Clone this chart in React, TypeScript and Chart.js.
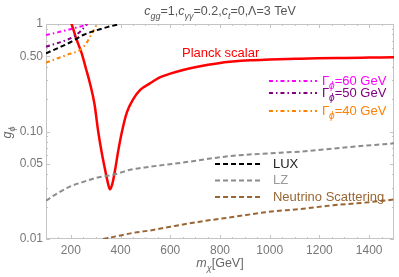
import React, { useEffect, useRef } from "react";
import { Chart, registerables } from "chart.js";

Chart.register(...registerables);

// ---- data ----
const planckX = [195, 203, 220, 244, 260, 277, 295, 310, 325, 337, 348, 357, 366, 378, 390, 404, 425, 451, 480, 518, 560, 600, 651, 720, 788, 850, 921, 1000, 1100, 1190, 1300, 1400, 1500];
const planckY = [1.1, 1.0, 0.75, 0.53, 0.39, 0.28, 0.18, 0.1, 0.062, 0.045, 0.034, 0.029, 0.032, 0.044, 0.065, 0.096, 0.15, 0.2, 0.245, 0.28, 0.32, 0.345, 0.373, 0.405, 0.43, 0.447, 0.46, 0.467, 0.474, 0.48, 0.484, 0.487, 0.49];

const luxX = [100, 150, 200, 250, 300, 350, 398];
const luxY = [0.533, 0.6, 0.68, 0.79, 0.87, 0.94, 1.0];

const lzX = [100, 150, 200, 250, 300, 378, 438, 518, 639, 840, 1041, 1122, 1300, 1500];
const lzY = [0.0227, 0.027, 0.031, 0.034, 0.037, 0.040, 0.044, 0.047, 0.051, 0.059, 0.0635, 0.065, 0.071, 0.0776];

const nuX = [330, 400, 450, 518, 600, 719, 850, 988, 1122, 1255, 1400, 1500];
const nuY = [0.010, 0.0108, 0.0114, 0.012, 0.013, 0.0145, 0.016, 0.0178, 0.019, 0.0206, 0.022, 0.0233];

const g60X = [100, 150, 210, 240, 270];
const g60Y = [0.79, 0.84, 0.91, 0.95, 1.0];

const g50X = [100, 183, 210, 240, 265];
const g50Y = [0.615, 0.71, 0.76, 0.86, 1.0];

const g40X = [100, 183, 240, 260, 280, 300, 305];
const g40Y = [0.437, 0.515, 0.58, 0.65, 0.78, 0.95, 1.0];

const xTicks = [200, 400, 600, 800, 1000, 1200, 1400];
const xMinor = [150, 250, 300, 350, 450, 500, 550, 650, 700, 750, 850, 900, 950, 1050, 1100, 1150, 1250, 1300, 1350, 1450];
const yMajor = [0.01, 0.05, 0.1, 0.5, 1];
const yMajorLabels = ["0.01", "0.05", "0.10", "0.50", "1"];
const yMinor = [0.02, 0.03, 0.04, 0.06, 0.07, 0.08, 0.09, 0.2, 0.3, 0.4, 0.6, 0.7, 0.8, 0.9];

const FONT = "'Liberation Sans', Arial, sans-serif";

const toXY = (xs: number[], ys: number[]) => xs.map((x, i) => ({ x, y: ys[i] }));

type Seg = [string, boolean];

function drawRich(ctx: CanvasRenderingContext2D, segs: Seg[], x: number, y: number, size: number, color: string, italicIdx: number[] = [], align: "left" | "center" = "left") {
  const subSize = Math.round(size * 0.75);
  const fontFor = (i: number, sub: boolean) =>
    `${italicIdx.includes(i) ? "italic " : ""}${sub ? subSize : size}px ${FONT}`;
  let total = 0;
  segs.forEach(([t, sub], i) => {
    ctx.font = fontFor(i, sub);
    total += ctx.measureText(t).width;
  });
  let cx = align === "center" ? x - total / 2 : x;
  ctx.fillStyle = color;
  ctx.textBaseline = "alphabetic";
  ctx.textAlign = "left";
  segs.forEach(([t, sub], i) => {
    ctx.font = fontFor(i, sub);
    ctx.fillText(t, cx, sub ? y + size * 0.3 : y);
    cx += ctx.measureText(t).width;
  });
}

const framePlugin = {
  id: "frameTicks",
  beforeDatasetsDraw(chart: any) {
    const { ctx, chartArea: ca, scales } = chart;
    ctx.save();
    ctx.strokeStyle = "#c4c4c4";
    ctx.lineWidth = 1;
    ctx.strokeRect(ca.left + 0.5, ca.top + 0.5, ca.right - ca.left - 1, ca.bottom - ca.top - 1);
    const xs = scales.x, ys = scales.y;
    const tick = (x1: number, y1: number, x2: number, y2: number) => {
      ctx.beginPath();
      ctx.moveTo(x1, y1);
      ctx.lineTo(x2, y2);
      ctx.stroke();
    };
    xTicks.forEach((v) => {
      const p = Math.round(xs.getPixelForValue(v)) + 0.5;
      tick(p, ca.bottom, p, ca.bottom - 4);
      tick(p, ca.top, p, ca.top + 4);
    });
    xMinor.forEach((v) => {
      const p = Math.round(xs.getPixelForValue(v)) + 0.5;
      tick(p, ca.bottom, p, ca.bottom - 2);
      tick(p, ca.top, p, ca.top + 2);
    });
    yMajor.forEach((v) => {
      const p = Math.round(ys.getPixelForValue(v)) + 0.5;
      tick(ca.left, p, ca.left + 4, p);
      tick(ca.right, p, ca.right - 4, p);
    });
    yMinor.forEach((v) => {
      const p = Math.round(ys.getPixelForValue(v)) + 0.5;
      tick(ca.left, p, ca.left + 2, p);
      tick(ca.right, p, ca.right - 2, p);
    });
    ctx.restore();
  },
  afterDatasetsDraw(chart: any) {
    const { ctx, chartArea: ca, scales } = chart;
    const xs = scales.x, ys = scales.y;
    const X = (v: number) => xs.getPixelForValue(v);
    const Y = (v: number) => ys.getPixelForValue(v);
    ctx.save();
    // title
    drawRich(ctx, [["c", false], ["gg", true], ["=1,", false], ["c", false], ["γγ", true], ["=0.2,", false], ["c", false], ["t", true], ["=0,Λ=3 TeV", false]],
      (ca.left + ca.right) / 2, 15, 12.5, "#555", [0, 1, 3, 4, 6, 7], "center");
    // x label
    drawRich(ctx, [["m", false], ["χ", true], ["[GeV]", false]], (ca.left + ca.right) / 2, 267, 12.5, "#666", [0, 1], "center");
    // y label
    ctx.save();
    ctx.translate(11, (ca.top + ca.bottom) / 2 + 1);
    ctx.rotate(-Math.PI / 2);
    drawRich(ctx, [["g", false], ["ϕ", true]], 0, 0, 12.5, "#666", [0, 1], "center");
    ctx.restore();

    // Planck label
    ctx.font = `13px ${FONT}`;
    ctx.fillStyle = "#ff0000";
    ctx.textBaseline = "middle";
    ctx.fillText("Planck scalar", X(647), Y(0.537));

    // Gamma legend
    const gl = [
      { c: "#ff00ff", t: "=60 GeV", y: 0.295 },
      { c: "#800080", t: "=50 GeV", y: 0.228 },
      { c: "#ff8000", t: "=40 GeV", y: 0.155 },
    ];
    gl.forEach((g) => {
      ctx.strokeStyle = g.c;
      ctx.lineWidth = 2;
      ctx.setLineDash([4, 3, 1.5, 3]);
      ctx.beginPath();
      ctx.moveTo(X(997), Y(g.y));
      ctx.lineTo(X(1190), Y(g.y));
      ctx.stroke();
      ctx.setLineDash([]);
      drawRich(ctx, [["Γ", false], ["ϕ", true], [g.t, false]], X(1210), Y(g.y) + 4, 13, g.c, [1]);
    });

    // detector legend
    const dl = [
      { c: "#000000", tc: "#222222", t: "LUX", y: 0.0499 },
      { c: "#8c8c8c", tc: "#9a9a9a", t: "LZ", y: 0.035 },
      { c: "#996633", tc: "#996633", t: "Neutrino Scattering", y: 0.0246 },
    ];
    dl.forEach((d) => {
      ctx.strokeStyle = d.c;
      ctx.lineWidth = 2;
      ctx.setLineDash([5, 3]);
      ctx.beginPath();
      ctx.moveTo(X(780), Y(d.y));
      ctx.lineTo(X(973), Y(d.y));
      ctx.stroke();
      ctx.setLineDash([]);
      ctx.font = `13px ${FONT}`;
      ctx.fillStyle = d.tc;
      ctx.textBaseline = "middle";
      ctx.textAlign = "left";
      ctx.fillText(d.t, X(1013), Y(d.y));
    });
    ctx.restore();
  },
};

export default function App() {
  const ref = useRef<HTMLCanvasElement | null>(null);
  useEffect(() => {
    if (!ref.current) return;
    const common = { pointRadius: 0, fill: false, clip: 0, cubicInterpolationMode: "monotone" as const };
    const chart = new Chart(ref.current, {
      type: "line",
      data: {
        datasets: [
          { ...common, label: "LUX", data: toXY(luxX, luxY), borderColor: "#000", borderWidth: 2, borderDash: [5, 3] },
          { ...common, label: "LZ", data: toXY(lzX, lzY), borderColor: "#8c8c8c", borderWidth: 2, borderDash: [5, 3] },
          { ...common, label: "Neutrino", data: toXY(nuX, nuY), borderColor: "#996633", borderWidth: 2, borderDash: [5, 3] },
          { ...common, label: "G60", data: toXY(g60X, g60Y), borderColor: "#ff00ff", borderWidth: 2, borderDash: [4, 3, 1.5, 3] },
          { ...common, label: "G50", data: toXY(g50X, g50Y), borderColor: "#800080", borderWidth: 2, borderDash: [4, 3, 1.5, 3] },
          { ...common, label: "G40", data: toXY(g40X, g40Y), borderColor: "#ff8000", borderWidth: 2, borderDash: [4, 3, 1.5, 3] },
          { ...common, label: "Planck", data: toXY(planckX, planckY), borderColor: "#ff0000", borderWidth: 2.5 },
        ],
      },
      options: {
        animation: false,
        responsive: true,
        maintainAspectRatio: false,
        layout: { padding: { top: 24, right: 5, left: 0, bottom: 0 } },
        plugins: { legend: { display: false }, title: { display: false }, tooltip: { enabled: false } },
        scales: {
          x: {
            type: "linear",
            min: 100,
            max: 1500,
            grid: { display: false, drawTicks: false },
            border: { display: false },
            afterBuildTicks: (s: any) => { s.ticks = xTicks.map((v) => ({ value: v })); },
            afterFit: (s: any) => { s.height = 38; },
            ticks: { color: "#777", font: { family: FONT, size: 12 }, padding: 4, maxRotation: 0, autoSkip: false, callback: (v: any) => String(v) },
          },
          y: {
            type: "logarithmic",
            min: 0.01,
            max: 1,
            grid: { display: false, drawTicks: false },
            border: { display: false },
            afterBuildTicks: (s: any) => { s.ticks = yMajor.map((v) => ({ value: v })); },
            afterFit: (s: any) => { s.width = 46; },
            ticks: {
              color: "#777",
              font: { family: FONT, size: 12 },
              padding: 3,
              autoSkip: false,
              callback: (v: any) => {
                const i = yMajor.findIndex((m) => Math.abs(m - Number(v)) < 1e-9);
                return i >= 0 ? yMajorLabels[i] : "";
              },
            },
          },
        },
      },
      plugins: [framePlugin],
    });
    return () => chart.destroy();
  }, []);
  return (
    <div style={{ position: "fixed", left: 0, top: 0, width: 399, height: 277, background: "#fff" }}>
      <canvas ref={ref} />
    </div>
  );
}
